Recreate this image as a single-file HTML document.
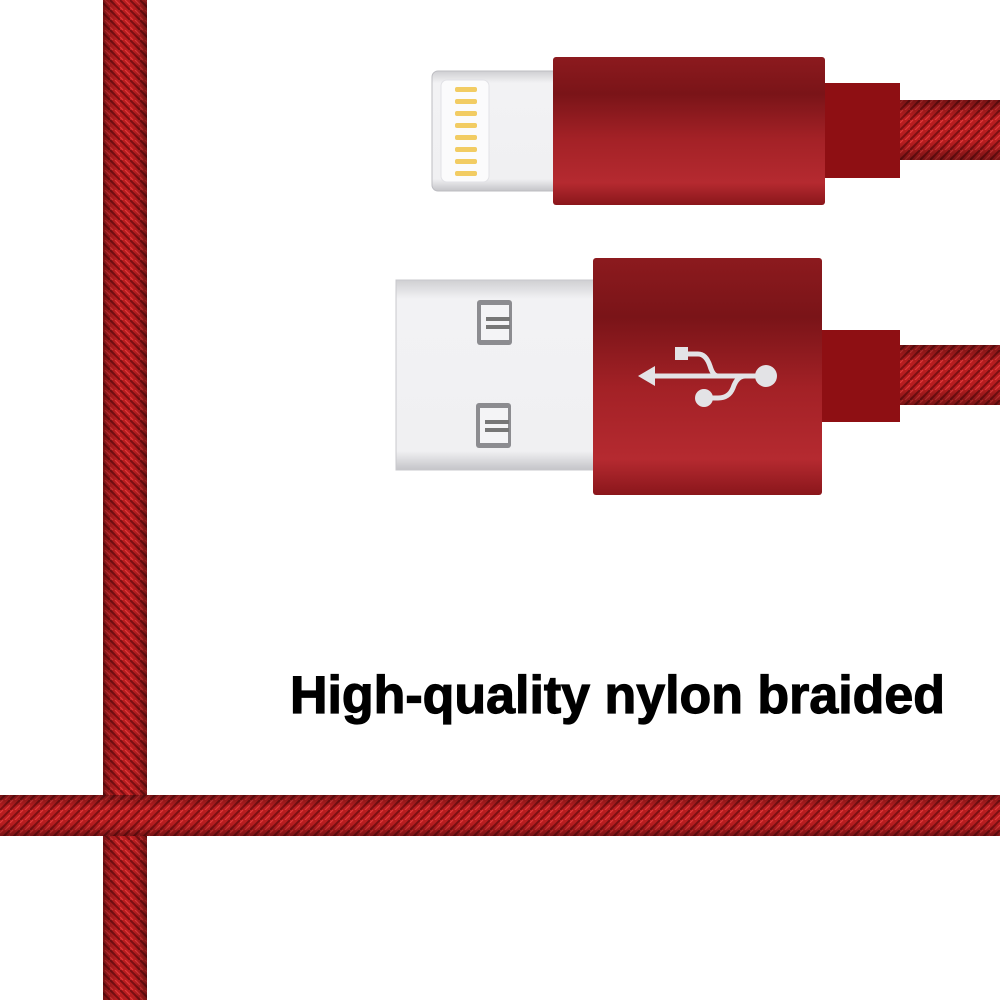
<!DOCTYPE html>
<html><head><meta charset="utf-8"><style>
html,body{margin:0;padding:0;background:#fff;width:1000px;height:1000px;overflow:hidden}
</style></head><body>
<svg width="1000" height="1000" viewBox="0 0 1000 1000" xmlns="http://www.w3.org/2000/svg">
<defs>
<pattern id="bh" width="10" height="10" patternUnits="userSpaceOnUse">
<rect width="10" height="10" fill="#b81d1f"/>
<path d="M0 10 L10 0" stroke="#7a0f12" stroke-width="2"/>
<path d="M0 3 L3 0 M5 10 L10 5" stroke="#e0383a" stroke-width="1.2"/>
</pattern>
<pattern id="bv" width="10" height="10" patternUnits="userSpaceOnUse">
<rect width="10" height="10" fill="#b81d1f"/>
<path d="M0 0 L10 10" stroke="#7a0f12" stroke-width="2"/>
<path d="M0 7 L3 10 M5 0 L10 5" stroke="#e0383a" stroke-width="1.2"/>
</pattern>
<linearGradient id="shadeH" x1="0" y1="0" x2="0" y2="1">
<stop offset="0" stop-color="#000" stop-opacity="0.35"/>
<stop offset="0.3" stop-color="#000" stop-opacity="0"/>
<stop offset="0.7" stop-color="#000" stop-opacity="0"/>
<stop offset="1" stop-color="#000" stop-opacity="0.35"/>
</linearGradient>
<linearGradient id="shadeV" x1="0" y1="0" x2="1" y2="0">
<stop offset="0" stop-color="#000" stop-opacity="0.35"/>
<stop offset="0.3" stop-color="#000" stop-opacity="0"/>
<stop offset="0.7" stop-color="#000" stop-opacity="0"/>
<stop offset="1" stop-color="#000" stop-opacity="0.35"/>
</linearGradient>
<linearGradient id="house" x1="0" y1="0" x2="0" y2="1">
<stop offset="0" stop-color="#8c1a1e"/>
<stop offset="0.25" stop-color="#7a1418"/>
<stop offset="0.55" stop-color="#a32126"/>
<stop offset="0.85" stop-color="#b52a30"/>
<stop offset="1" stop-color="#8a161b"/>
</linearGradient>
<linearGradient id="metal" x1="0" y1="0" x2="0" y2="1">
<stop offset="0" stop-color="#cfcfd2"/>
<stop offset="0.1" stop-color="#f2f2f4"/>
<stop offset="0.9" stop-color="#f0f0f2"/>
<stop offset="1" stop-color="#c4c4c8"/>
</linearGradient>
</defs>

<rect x="103" y="0" width="44" height="1000" fill="url(#bv)"/>
<rect x="103" y="0" width="44" height="1000" fill="url(#shadeV)"/>
<rect x="0" y="795" width="1000" height="41" fill="url(#bh)"/>
<rect x="0" y="795" width="1000" height="41" fill="url(#shadeH)"/>

<rect x="898" y="100" width="102" height="60" fill="url(#bh)"/>
<rect x="898" y="100" width="102" height="60" fill="url(#shadeH)"/>
<rect x="823" y="83" width="77" height="95" fill="#8e0f13"/>
<rect x="432" y="71" width="130" height="120" rx="6" fill="url(#metal)" stroke="#bdbdc2"/>
<rect x="441" y="80" width="48" height="102" rx="6" fill="#fbfbfc" stroke="#e2e2e6"/>
<g fill="#f2cc63">
<rect x="455" y="87" width="22" height="5" rx="2"/><rect x="455" y="99" width="22" height="5" rx="2"/>
<rect x="455" y="111" width="22" height="5" rx="2"/><rect x="455" y="123" width="22" height="5" rx="2"/>
<rect x="455" y="135" width="22" height="5" rx="2"/><rect x="455" y="147" width="22" height="5" rx="2"/>
<rect x="455" y="159" width="22" height="5" rx="2"/><rect x="455" y="171" width="22" height="5" rx="2"/>
</g>
<rect x="553" y="57" width="272" height="148" rx="3" fill="url(#house)"/>

<rect x="898" y="345" width="102" height="60" fill="url(#bh)"/>
<rect x="898" y="345" width="102" height="60" fill="url(#shadeH)"/>
<rect x="820" y="330" width="80" height="92" fill="#8e0f13"/>
<rect x="396" y="280" width="206" height="190" fill="url(#metal)" stroke="#c8c8cc"/>
<rect x="477" y="300" width="35" height="45" rx="3" fill="#8c8c90"/>
<rect x="481" y="305" width="28" height="35" fill="#f4f4f6"/>
<rect x="486" y="317" width="24" height="4" fill="#777"/><rect x="486" y="325" width="24" height="4" fill="#777"/>
<rect x="476" y="403" width="35" height="45" rx="3" fill="#8c8c90"/>
<rect x="480" y="408" width="28" height="35" fill="#f4f4f6"/>
<rect x="485" y="420" width="24" height="4" fill="#777"/><rect x="485" y="428" width="24" height="4" fill="#777"/>
<rect x="593" y="258" width="229" height="237" rx="3" fill="url(#house)"/>
<g fill="#e3e3e6" stroke="#e3e3e6">
<line x1="650" y1="376" x2="765" y2="376" stroke-width="5"/>
<polygon points="638,376 655,366 655,386" stroke="none"/>
<circle cx="766" cy="376" r="11" stroke="none"/>
<rect x="675" y="347" width="13" height="13" stroke="none"/>
<path d="M685 354 L698 354 Q706 354 710 366 Q713 376 718 376" fill="none" stroke-width="5"/>
<path d="M745 376 Q737 376 733 388 Q729 398 718 398 L707 398" fill="none" stroke-width="5"/>
<circle cx="704" cy="398" r="9" stroke="none"/>
</g>

<text x="290" y="713" font-family="Liberation Sans, DejaVu Sans, sans-serif" font-weight="bold" font-size="53" textLength="655" lengthAdjust="spacingAndGlyphs" fill="#000" stroke="#000" stroke-width="1.2">High-quality nylon braided</text>
</svg>
</body></html>
